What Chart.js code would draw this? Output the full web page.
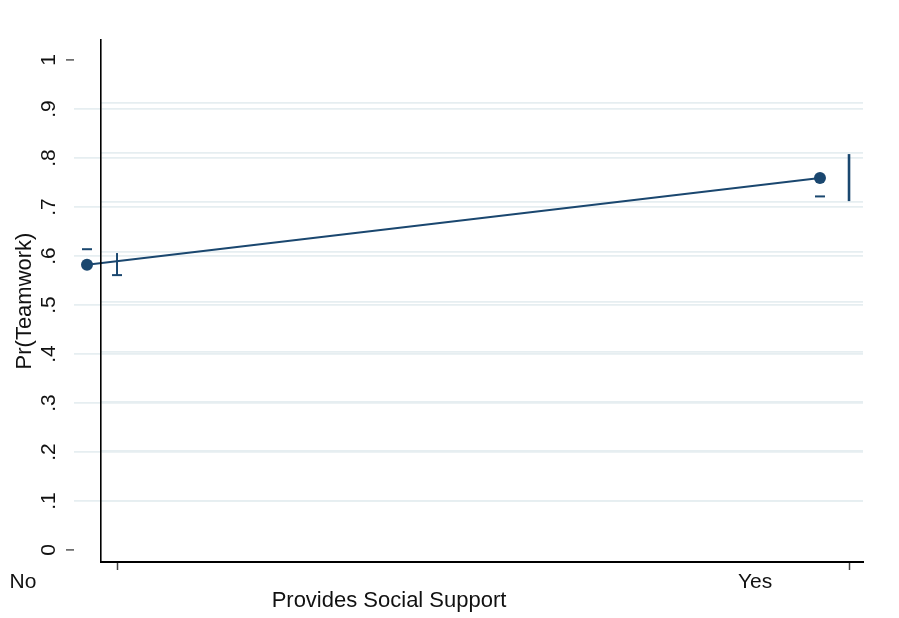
<!DOCTYPE html>
<html>
<head>
<meta charset="utf-8">
<script src="https://cdn.jsdelivr.net/npm/chart.js@4/dist/chart.umd.min.js"></script>
<style>
  html, body { margin: 0; padding: 0; background: #ffffff; }
  #wrap { position: relative; width: 899px; height: 618px; }
</style>
</head>
<body>
<div id="wrap"><canvas id="c"></canvas></div>
<script>
// ---- data ----
const categories = ['No', 'Yes'];
const categoryValues = [0, 1];
const margins = [0.582, 0.759];
const ciLow = [0.561, 0.712];
const ciHigh = [0.606, 0.808];
const yTickValues = [0, 0.1, 0.2, 0.3, 0.4, 0.5, 0.6, 0.7, 0.8, 0.9, 1];
const yTickLabels = ['0', '.1', '.2', '.3', '.4', '.5', '.6', '.7', '.8', '.9', '1'];
const xTitle = 'Provides Social Support';
const yTitle = 'Pr(Teamwork)';

// ---- styles ----
const NAVY = '#1a476f';
const GRID = '#e6eef1';
const TEXT = '#111111';
const FONT = "'Liberation Sans', Arial, Helvetica, sans-serif";
const LABEL_SHIFT = -94;

function yLabel(v) {
  const i = yTickValues.findIndex(t => Math.abs(t - v) < 1e-6);
  return i >= 0 ? yTickLabels[i] : '';
}
function isEnd(v) { return Math.abs(v) < 1e-6 || Math.abs(v - 1) < 1e-6; }

const pts = (xs, ys) => xs.map((x, i) => ({ x: x, y: ys[i] }));

const datasets = [];
// margins line with markers
datasets.push({
  type: 'scatter', showLine: true, xAxisID: 'xp', yAxisID: 'y',
  data: pts(categoryValues, margins),
  borderColor: NAVY, backgroundColor: NAVY, borderWidth: 2,
  pointRadius: 6, pointBackgroundColor: NAVY, pointBorderColor: NAVY, pointBorderWidth: 0,
  clip: false, outside: true
});
// CI spikes
categoryValues.forEach((cv, i) => {
  datasets.push({
    type: 'scatter', showLine: true, xAxisID: 'x', yAxisID: 'y',
    data: [{ x: cv, y: ciLow[i] }, { x: cv, y: ciHigh[i] }],
    borderColor: NAVY, borderWidth: i === 0 ? 2 : 2.6,
    pointRadius: 0, clip: false
  });
});
// lower cap of first CI
datasets.push({
  type: 'scatter', xAxisID: 'x', yAxisID: 'y',
  data: [{ x: categoryValues[0], y: ciLow[0] }],
  pointStyle: 'line', pointRadius: 5, borderColor: NAVY, pointBorderColor: NAVY, pointBorderWidth: 2,
  clip: false
});
// displaced caps
datasets.push({
  type: 'scatter', xAxisID: 'xp', yAxisID: 'yg',
  data: [{ x: categoryValues[0], y: ciHigh[0] }, { x: categoryValues[1], y: ciLow[1] }],
  pointStyle: 'line', pointRadius: 5, borderColor: NAVY, pointBorderColor: NAVY, pointBorderWidth: 2,
  clip: false, outside: true
});

// draw point elements that fall outside the plot area (library elements, no area test)
const outsidePoints = {
  id: 'outsidePoints',
  afterDatasetsDraw(chart) {
    const area = chart.chartArea;
    chart.data.datasets.forEach((ds, di) => {
      if (!ds.outside) return;
      const meta = chart.getDatasetMeta(di);
      meta.data.forEach(el => {
        if (el.x < area.left || el.x > area.right || el.y < area.top || el.y > area.bottom) {
          el.draw(chart.ctx);
        }
      });
    });
  }
};

const xTitlePlugin = {
  id: 'xTitlePlugin',
  afterDraw(chart) {
    const sx = chart.scales.x;
    const ctx = chart.ctx;
    ctx.save();
    ctx.font = '22px ' + FONT;
    ctx.fillStyle = TEXT;
    ctx.textAlign = 'center';
    ctx.textBaseline = 'alphabetic';
    const cx = (sx.getPixelForValue(categoryValues[0]) + sx.getPixelForValue(categoryValues[1])) / 2 + LABEL_SHIFT;
    ctx.fillText(xTitle, cx, sx.bottom - 11);
    ctx.restore();
  }
};

new Chart(document.getElementById('c'), {
  type: 'scatter',
  data: { datasets },
  plugins: [outsidePoints, xTitlePlugin],
  options: {
    responsive: true,
    maintainAspectRatio: false,
    animation: false,
    layout: { padding: { top: 40, right: 36, bottom: 0, left: 0 } },
    plugins: { legend: { display: false }, tooltip: { enabled: false } },
    scales: {
      x: {
        type: 'linear', position: 'bottom',
        min: -0.0219, max: 1.0191,
        afterBuildTicks: (s) => { s.ticks = categoryValues.map(v => ({ value: v })); },
        afterFit: (s) => { s.height = 56; },
        ticks: {
          callback: (v) => { const i = categoryValues.indexOf(v); return i >= 0 ? categories[i] : ''; },
          labelOffset: LABEL_SHIFT, padding: 0, maxRotation: 0, autoSkip: false,
          color: TEXT, font: { family: FONT, size: 21 }
        },
        grid: { drawOnChartArea: false, tickLength: 8, tickColor: '#444', tickWidth: 1.5 },
        border: { display: true, color: '#000', width: 2 }
      },
      xp: {
        type: 'linear', position: 'bottom', display: false,
        min: 0.0191, max: 1.0587
      },
      y: {
        type: 'linear', position: 'left',
        min: -0.02449, max: 1.04082,
        afterBuildTicks: (s) => { s.ticks = yTickValues.map(v => ({ value: v })); },
        afterFit: (s) => { s.width = 101; },
        ticks: {
          callback: (v) => yLabel(v),
          minRotation: 90, maxRotation: 90, crossAlign: 'center', padding: 8, autoSkip: false,
          color: TEXT, font: { family: FONT, size: 21 }
        },
        grid: {
          drawOnChartArea: true,
          color: (c) => (c.tick && isEnd(c.tick.value)) ? 'rgba(0,0,0,0)' : GRID,
          lineWidth: 1.8,
          tickLength: 35,
          tickColor: (c) => (c.tick && isEnd(c.tick.value)) ? '#555' : GRID,
          tickWidth: (c) => (c.tick && isEnd(c.tick.value)) ? 1.5 : 1.8,
          tickBorderDash: (c) => (c.tick && isEnd(c.tick.value)) ? [8, 100] : [0, 8, 100]
        },
        border: { display: true, color: '#000', width: 1.6, z: 1 },
        title: {
          display: true, text: yTitle, color: TEXT,
          font: { family: FONT, size: 22 }, padding: { top: 12, bottom: 0 }
        }
      },
      yg: {
        type: 'linear', position: 'left',
        min: -0.02209, max: 1.0261,
        afterBuildTicks: (s) => { s.ticks = yTickValues.map(v => ({ value: v })); },
        afterFit: (s) => { s.width = 0; },
        ticks: { display: false },
        grid: {
          drawOnChartArea: true, drawTicks: false,
          color: (c) => (c.tick && isEnd(c.tick.value)) ? 'rgba(0,0,0,0)' : GRID,
          lineWidth: 1.8
        },
        border: { display: false }
      }
    }
  }
});
</script>
</body>
</html>
